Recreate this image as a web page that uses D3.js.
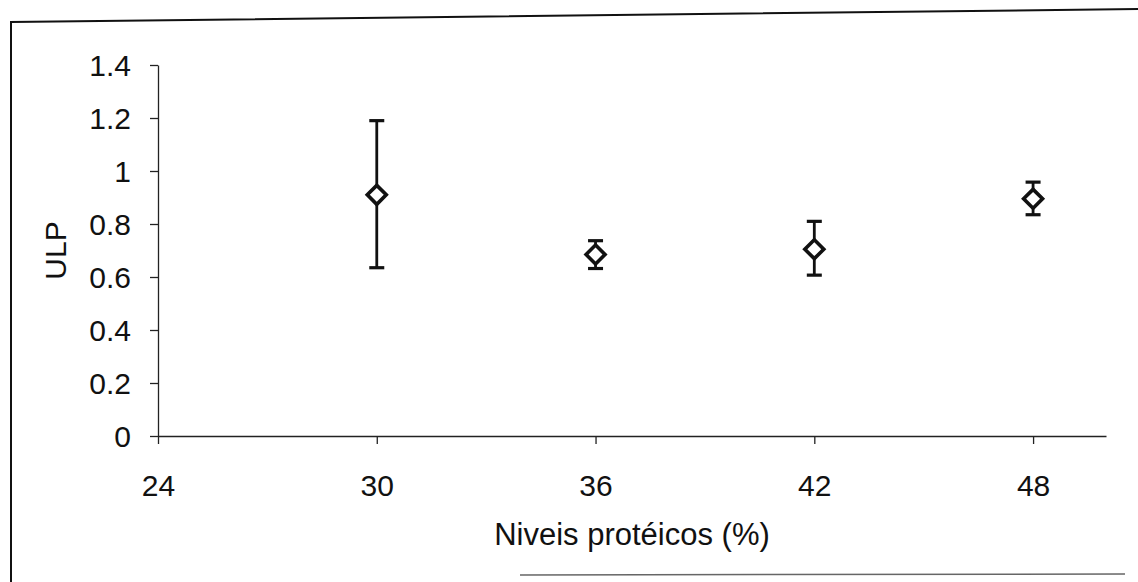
<!DOCTYPE html>
<html>
<head>
<meta charset="utf-8">
<script src="https://cdn.jsdelivr.net/npm/d3@7"></script>
<style>
  body { margin: 0; background: #fff; }
  text { font-family: "Liberation Sans", Arial, sans-serif; fill: #111; }
</style>
</head>
<body>
<div id="chart"></div>
<script>
// protein levels (%) and ULP mean with error bar limits
const levels = [30, 36, 42, 48];
const ulpMean = [0.91, 0.685, 0.705, 0.895];
const ulpHigh = [1.19, 0.737, 0.81, 0.958];
const ulpLow = [0.635, 0.632, 0.607, 0.835];
const xTicks = [24, 30, 36, 42, 48];
const yTicks = [0, 0.2, 0.4, 0.6, 0.8, 1, 1.2, 1.4];

const width = 1138;
const height = 582;

const svg = d3.select('#chart')
  .append('svg')
  .attr('width', width)
  .attr('height', height);

// chart area frame (scan is slightly tilted)
svg.append('path')
  .attr('d', 'M11,582 L11,22 L1138,9')
  .attr('fill', 'none')
  .attr('stroke', '#111')
  .attr('stroke-width', 2);
svg.append('line')
  .attr('x1', 520).attr('x2', 1125)
  .attr('y1', 575).attr('y2', 574)
  .attr('stroke', '#666')
  .attr('stroke-width', 1.5);

const x = d3.scaleLinear().domain([24, 50]).range([158, 1106]);
const y = d3.scaleLinear().domain([0, 1.4]).range([436, 65]);

const xAxis = svg.append('g')
  .attr('transform', `translate(0,${y(0)})`)
  .call(d3.axisBottom(x).tickValues(xTicks).tickSize(8).tickSizeOuter(0).tickPadding(31));

const yAxis = svg.append('g')
  .attr('transform', `translate(${x(24)},0)`)
  .call(d3.axisLeft(y).tickValues(yTicks).tickSize(8).tickSizeOuter(0).tickPadding(19)
    .tickFormat(d => d3.format('')(d)));

[xAxis, yAxis].forEach(g => {
  g.select('.domain').attr('stroke', '#222').attr('stroke-width', 1.3);
  g.selectAll('.tick line').attr('stroke', '#222').attr('stroke-width', 1.3);
  g.selectAll('.tick text')
    .style('font-size', '30px')
    .style('font-family', '"Liberation Sans", Arial, sans-serif')
    .attr('fill', '#111');
});
yAxis.selectAll('.tick text').attr('dy', '0.36em');

// error bars
const bars = svg.append('g')
  .attr('stroke', '#111')
  .attr('stroke-width', 2.8);

levels.forEach((lv, i) => {
  bars.append('line')
    .attr('x1', x(lv)).attr('x2', x(lv))
    .attr('y1', y(ulpHigh[i])).attr('y2', y(ulpLow[i]));
  [ulpHigh[i], ulpLow[i]].forEach(v => {
    bars.append('line')
      .attr('x1', x(lv) - 7.5).attr('x2', x(lv) + 7.5)
      .attr('y1', y(v)).attr('y2', y(v))
      .attr('stroke-width', 3.2);
  });
});

// diamond markers
svg.selectAll('path.marker')
  .data(levels)
  .enter().append('path')
    .attr('class', 'marker')
    .attr('d', d3.symbol().type(d3.symbolSquare).size(180))
    .attr('transform', (d, i) => `translate(${x(d)},${y(ulpMean[i])}) rotate(45)`)
    .attr('fill', '#fff')
    .attr('stroke', '#111')
    .attr('stroke-width', 3.6);

// axis titles
svg.append('text')
  .attr('x', (x(24) + x(50)) / 2)
  .attr('y', 545)
  .attr('text-anchor', 'middle')
  .style('font-size', '31px')
  .text('Niveis protéicos (%)');

svg.append('text')
  .attr('transform', `translate(66,${(y(0) + y(1.4)) / 2}) rotate(-90)`)
  .attr('text-anchor', 'middle')
  .style('font-size', '30px')
  .text('ULP');
</script>
</body>
</html>
